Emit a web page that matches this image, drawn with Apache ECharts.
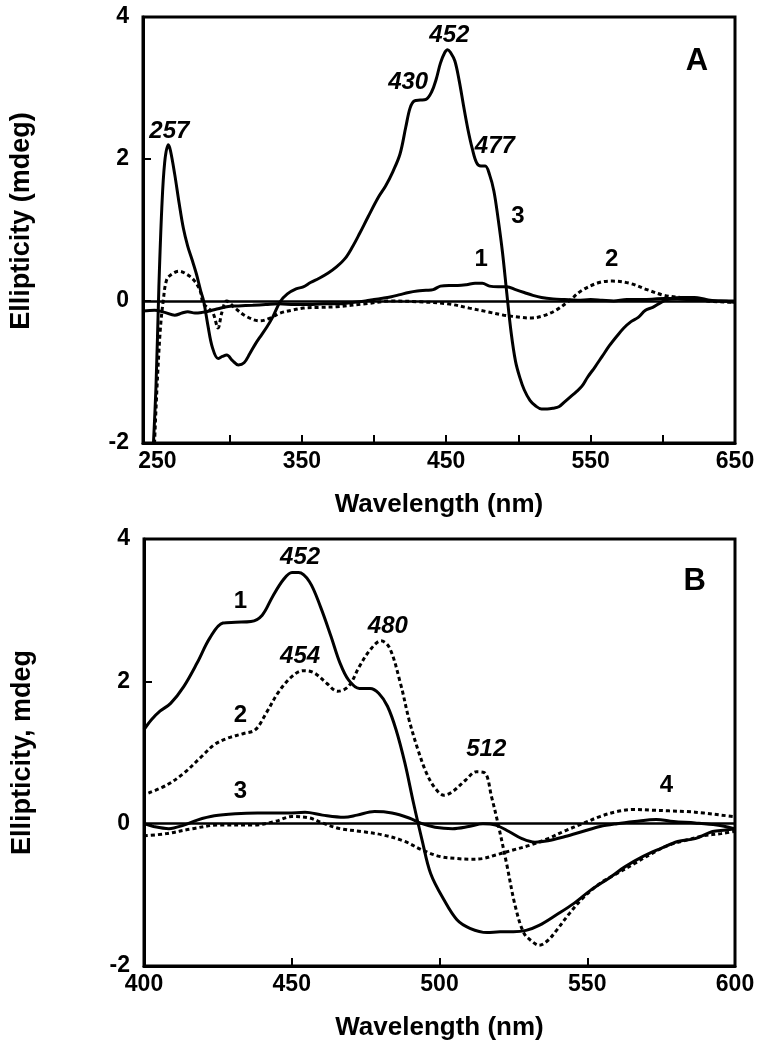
<!DOCTYPE html>
<html>
<head>
<meta charset="utf-8">
<script src="https://cdn.jsdelivr.net/npm/echarts@6/dist/echarts.min.js"></script>
<style>
html,body{margin:0;padding:0;background:#fff;}
#chart{width:759px;height:1050px;}
</style>
</head>
<body>
<div id="chart"></div>
<script>
// ---------- Panel A data ----------
const curveA3 = [[246,-2.5],[249,-1.2],[251,0.2],[253,1.3],[255,1.95],[257.5,2.2],[259,2.12],[262,1.78],[265,1.38],[268,1.02],[271,0.77],[274,0.58],[277,0.38],[280,0.14],[282,0.0],[285,-0.35],[288,-0.65],[292,-0.81],[295,-0.78],[298,-0.76],[302,-0.84],[306,-0.9],[310,-0.87],[314,-0.74],[318,-0.6],[322,-0.48],[326,-0.36],[330,-0.22],[335,-0.01],[340,0.1],[346,0.17],[351,0.2],[356,0.26],[362,0.32],[368,0.39],[374,0.48],[380,0.6],[385,0.76],[390,0.95],[396,1.19],[403,1.46],[408,1.62],[413,1.82],[418,2.07],[422,2.45],[425,2.72],[428,2.82],[432,2.83],[436,2.84],[440,2.95],[443,3.12],[446,3.35],[449,3.5],[451,3.54],[453,3.5],[456,3.38],[459,3.1],[462,2.75],[465,2.42],[468,2.15],[471,1.95],[474,1.9],[477,1.9],[480,1.78],[483,1.55],[486,1.15],[489,0.68],[492,0.1],[495,-0.45],[498,-0.85],[501,-1.08],[504,-1.25],[508,-1.4],[512,-1.48],[516,-1.52],[520,-1.52],[524,-1.51],[528,-1.49],[532,-1.42],[536,-1.35],[540,-1.28],[544,-1.2],[548,-1.07],[553,-0.93],[558,-0.78],[563,-0.63],[568,-0.5],[573,-0.38],[578,-0.29],[583,-0.23],[588,-0.13],[593,-0.09],[598,-0.03],[603,0.02],[610,0.03],[618,0.02],[625,0.02],[632,0.0],[640,0.0],[650,-0.02]];
const curveA1 = [[240,-0.14],[248,-0.13],[255,-0.16],[262,-0.2],[267,-0.17],[271,-0.15],[276,-0.17],[281,-0.16],[286,-0.14],[292,-0.11],[298,-0.08],[306,-0.07],[316,-0.06],[325,-0.05],[334,-0.04],[345,-0.05],[355,-0.05],[365,-0.04],[376,-0.04],[385,-0.02],[394,0.0],[400,0.02],[406,0.04],[412,0.06],[418,0.09],[424,0.12],[430,0.14],[436,0.15],[441,0.16],[446,0.21],[452,0.22],[458,0.22],[464,0.23],[470,0.25],[475,0.25],[480,0.21],[486,0.2],[492,0.2],[498,0.16],[504,0.12],[510,0.08],[516,0.05],[524,0.03],[532,0.02],[541,0.01],[550,0.02],[558,0.01],[566,0.0],[575,0.02],[586,0.02],[596,0.03],[606,0.04],[614,0.05],[622,0.05],[630,0.02],[640,0.0],[650,0.0]];
const curveA2 = [[247,-2.5],[249.5,-1.3],[252,-0.4],[254,0.0],[256.4,0.3],[260,0.38],[265,0.42],[270,0.38],[275,0.3],[279.5,0.15],[281.6,-0.03],[285,-0.1],[288.5,-0.17],[292,-0.38],[294.5,-0.17],[298,0.0],[303.7,-0.1],[311.8,-0.22],[321,-0.28],[328,-0.24],[335,-0.17],[343,-0.13],[351,-0.1],[362,-0.09],[374,-0.08],[394,-0.04],[412,0.0],[430,-0.01],[451,-0.04],[466,-0.1],[478,-0.15],[490,-0.2],[502,-0.23],[508,-0.24],[517,-0.21],[526,-0.13],[535,0.0],[544,0.15],[556,0.26],[565,0.28],[577,0.25],[589,0.16],[601,0.08],[616,0.04],[631,0.0],[649,-0.02]];

// ---------- Panel B data ----------
const curveB1 = [[400,1.32],[402.5,1.46],[405.4,1.58],[409,1.69],[413.5,1.93],[418,2.26],[422.3,2.61],[426.7,2.82],[431,2.83],[436.2,2.84],[440,2.93],[443.5,3.19],[447.2,3.43],[450.1,3.53],[452.3,3.53],[456,3.4],[459.7,3.05],[463.3,2.63],[466.3,2.26],[469.2,2.02],[472.9,1.9],[476.5,1.9],[479.5,1.83],[482.4,1.65],[485.3,1.32],[488.3,0.85],[491.2,0.29],[494.1,-0.23],[497,-0.7],[501.5,-1.07],[505.9,-1.35],[510.3,-1.47],[516.1,-1.53],[520.5,-1.52],[525,-1.52],[529.3,-1.5],[533.7,-1.43],[539.6,-1.28],[545.5,-1.12],[551.3,-0.93],[557.2,-0.77],[563,-0.6],[568.9,-0.46],[574.8,-0.35],[580.6,-0.25],[586.5,-0.21],[592.4,-0.11],[596.8,-0.09],[600,-0.07]];
const curveB2 = [[401.5,0.43],[407.6,0.54],[413.5,0.71],[419.4,0.94],[423.8,1.11],[428.2,1.2],[434,1.27],[437.7,1.32],[441.3,1.55],[445.7,1.86],[450.1,2.07],[453.8,2.15],[457.5,2.12],[461.9,1.97],[465.5,1.86],[469.2,1.93],[472.9,2.21],[476.5,2.44],[480.2,2.57],[483.1,2.47],[486.8,1.97],[489.7,1.46],[492.7,1.04],[495.6,0.71],[498.5,0.5],[501.5,0.4],[504.4,0.45],[508.8,0.61],[512.5,0.73],[515.4,0.71],[517.6,0.38],[519.8,0.0],[522.7,-0.56],[525.7,-1.17],[528.6,-1.54],[531.5,-1.66],[533.7,-1.71],[536.7,-1.64],[539.6,-1.5],[544,-1.26],[548.4,-1.05],[554.3,-0.84],[560.1,-0.7],[566,-0.56],[571.8,-0.42],[577.7,-0.3],[583.6,-0.23],[589.4,-0.17],[595.3,-0.14],[599.7,-0.11]];
const curveB3 = [[400,0.0],[403.2,-0.04],[408.4,-0.07],[413.5,-0.02],[418,0.05],[423.8,0.11],[431,0.14],[438.4,0.15],[444.3,0.15],[448.7,0.15],[454.5,0.16],[460.4,0.12],[467.7,0.09],[472.1,0.12],[478,0.17],[483.9,0.15],[489.7,0.08],[494.1,0.0],[498.5,-0.05],[504.4,-0.07],[509.9,-0.04],[514.7,0.0],[519,-0.02],[523.5,-0.11],[527.9,-0.21],[532.3,-0.26],[536.7,-0.24],[542.5,-0.18],[548.4,-0.11],[554.3,-0.04],[560.1,0.0],[566,0.03],[573.3,0.06],[579.2,0.03],[586.5,0.01],[593.8,-0.02],[599.7,-0.07]];
const curveB4 = [[400,-0.17],[407.6,-0.14],[416.4,-0.07],[425.2,-0.02],[437,-0.02],[444.3,0.03],[450.1,0.1],[456,0.08],[460.4,0.01],[466.3,-0.07],[473.6,-0.11],[481,-0.16],[488.3,-0.25],[494.1,-0.37],[500,-0.46],[505.9,-0.49],[510.3,-0.5],[514.7,-0.49],[519,-0.44],[524.9,-0.37],[530.8,-0.3],[536.7,-0.21],[542.5,-0.1],[548.4,0.0],[554.3,0.1],[560.1,0.17],[566,0.2],[571.8,0.19],[577.7,0.18],[583.6,0.17],[589.4,0.15],[595.3,0.12],[599.7,0.1]];

// ---------- Axis ticks and labels ----------
const xLabelsA = [250,350,450,550,650];
const xTicksA = [300,350,400,450,500,550,600];
const xRangeA = [240,650];
const xRangeB = [400,600];
const yRange = [-2,4];

// ---------- Annotations [x, y, text] ----------
const peakLabelsA = [[258.6,2.38,'257'],[424,3.07,'430'],[452.5,3.73,'452'],[484,2.17,'477']];
const curveLabelsA = [[500,1.18,'3'],[474.5,0.58,'1'],[565,0.58,'2']];
const panelLabelA = [[624,3.36,'A']];
const peakLabelsB = [[453,3.73,'452'],[482.7,2.77,'480'],[453,2.35,'454'],[516,1.04,'512']];
const curveLabelsB = [[432.8,3.11,'1'],[432.8,1.51,'2'],[432.8,0.44,'3'],[577,0.53,'4']];
const panelLabelB = [[586.5,3.4,'B']];

const FONT = '"Liberation Sans", Arial, Helvetica, sans-serif';

function xAxisCfg(idx, range, extra){
  return Object.assign({
    type:'value', gridIndex:idx, min:range[0], max:range[1],
    name:'Wavelength (nm)', nameLocation:'middle', nameGap:49,
    nameTextStyle:{fontFamily:FONT,fontWeight:'bold',fontSize:26,color:'#000'},
    axisLine:{show:true,onZero:false,lineStyle:{color:'#000',width:3}},
    axisTick:{show:true,inside:true,length:8,lineStyle:{color:'#000',width:2}},
    axisLabel:{fontFamily:FONT,fontWeight:'bold',fontSize:23,color:'#000',margin:7},
    splitLine:{show:false}
  }, extra);
}
function yAxisCfg(idx, name, pad){
  return {
    type:'value', gridIndex:idx, min:yRange[0], max:yRange[1], interval:2,
    name:name, nameLocation:'middle', nameGap:108,
    nameTextStyle:{fontFamily:FONT,fontWeight:'bold',fontSize:27,color:'#000',padding:pad},
    axisLine:{show:true,lineStyle:{color:'#000',width:3}},
    axisTick:{show:true,inside:true,length:8,lineStyle:{color:'#000',width:2}},
    axisLabel:{fontFamily:FONT,fontWeight:'bold',fontSize:23,color:'#000',margin:14},
    splitLine:{show:false}
  };
}
function lineSeries(idx, data, dotted, withZero){
  const s = {
    type:'line', xAxisIndex:idx, yAxisIndex:idx, data:data, showSymbol:false, symbol:'none',
    smooth:0.35, clip:true, silent:true,
    lineStyle:{color:'#000', width:3, type: dotted ? [4,3] : 'solid'}
  };
  if(withZero){
    s.markLine = {silent:true, symbol:'none', label:{show:false},
      lineStyle:{color:'#000',width:2.5,type:'solid'}, data:[{yAxis:0}]};
  }
  return s;
}
function textSeries(idx, data, italic, size){
  return {
    type:'scatter', xAxisIndex:idx, yAxisIndex:idx, symbol:'circle', symbolSize:1, silent:true,
    itemStyle:{color:'#fff', opacity:1},
    data:data.map(d=>({value:[d[0],d[1]], name:d[2]})),
    label:{show:true, position:[0,0], align:'center', verticalAlign:'middle', formatter:p=>p.name,
      fontFamily:FONT, fontWeight:'bold', fontStyle: italic?'italic':'normal',
      fontSize:size, color:'#000', textBorderWidth:0, opacity:1}
  };
}

const chart = echarts.init(document.getElementById('chart'), null, {renderer:'canvas'});
chart.setOption({
  backgroundColor:'#fff',
  animation:false,
  grid:[
    {left:143, right:24, top:17, height:426, show:true, borderColor:'#000', borderWidth:3, containLabel:false},
    {left:144, right:24, top:539, height:427, show:true, borderColor:'#000', borderWidth:3, containLabel:false}
  ],
  xAxis:[
    xAxisCfg(0, xRangeA, {
      axisTick:{show:true,inside:true,length:8,customValues:xTicksA,lineStyle:{color:'#000',width:2}},
      axisLabel:{fontFamily:FONT,fontWeight:'bold',fontSize:23,color:'#000',margin:7,customValues:xLabelsA}
    }),
    xAxisCfg(1, xRangeB, {interval:50})
  ],
  yAxis:[ yAxisCfg(0,'Ellipticity (mdeg)',[0,0,0,18]), yAxisCfg(1,'Ellipticity, mdeg',[0,0,0,0]) ],
  series:[
    lineSeries(0, curveA1, false, true),
    lineSeries(0, curveA2, true, false),
    lineSeries(0, curveA3, false, false),
    textSeries(0, peakLabelsA, true, 24),
    textSeries(0, curveLabelsA, false, 24),
    textSeries(0, panelLabelA, false, 31),
    lineSeries(1, curveB3, false, true),
    lineSeries(1, curveB4, true, false),
    lineSeries(1, curveB1, false, false),
    lineSeries(1, curveB2, true, false),
    textSeries(1, peakLabelsB, true, 24),
    textSeries(1, curveLabelsB, false, 24),
    textSeries(1, panelLabelB, false, 31)
  ]
});
</script>
</body>
</html>
